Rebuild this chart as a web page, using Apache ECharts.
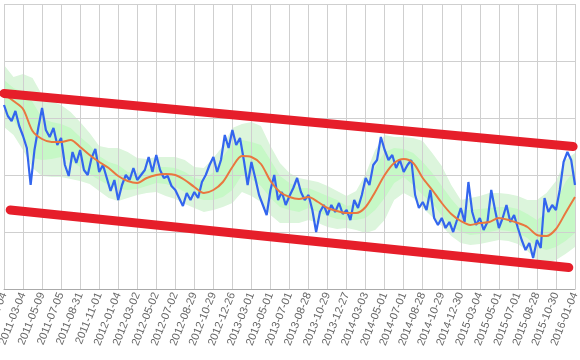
<!DOCTYPE html>
<html><head><meta charset="utf-8">
<script src="https://cdn.jsdelivr.net/npm/echarts@6/dist/echarts.min.js"></script>
<style>html,body{margin:0;padding:0;background:#fff}#c{width:580px;height:360px}</style>
</head><body><div id="c"></div>
<script>
const tickLabels = ["2011-01-04","2011-03-04","2011-05-09","2011-07-05","2011-08-31","2011-11-01","2012-01-04","2012-03-02","2012-05-02","2012-07-02","2012-08-29","2012-10-29","2012-12-26","2013-03-01","2013-05-01","2013-07-01","2013-08-28","2013-10-29","2013-12-27","2014-03-03","2014-05-01","2014-07-01","2014-08-28","2014-10-29","2014-12-30","2015-03-04","2015-05-01","2015-07-01","2015-08-28","2015-10-30","2016-01-04"];
const daysPerTick = 40;
const priceStep = 8;
const price = [184,173,168,178,163,153,141,104,139,161,181,159,152,161,144,151,124,113,137,126,139,119,114,131,140,117,124,111,98,109,89,104,114,109,121,109,114,119,132,117,134,119,111,113,103,99,91,83,96,89,97,91,107,114,124,132,117,129,154,141,159,144,151,129,104,127,111,94,84,74,99,114,89,97,84,93,101,111,97,89,94,79,57,77,84,74,84,77,86,75,79,69,89,81,94,111,104,124,129,152,139,129,134,121,129,117,124,129,94,81,87,79,99,71,64,71,61,67,57,69,81,67,107,77,64,71,59,67,99,79,61,71,84,67,74,61,49,39,46,31,49,41,91,77,84,79,99,127,137,129,104];
const bandStep = 20;
const movingAvg = [195,188,180,158,150,147,147,149,142,134,127,121,113,108,106,111,114,115,114,109,102,96,99,107,122,133,132,125,108,97,92,90,92,87,81,78,76,76,82,97,114,126,130,126,111,99,86,75,68,64,66,67,71,69,66,62,54,53,60,76,92];
const outerUpper = [224,212,215,211,194,188,184,177,167,156,143,141,141,137,131,130,132,132,132,129,122,121,131,143,161,165,167,163,143,126,116,111,109,107,103,98,93,98,115,139,154,152,152,151,148,136,123,104,89,91,93,96,96,95,93,89,89,96,108,129,136];
const innerUpper = [209,201,197,187,171,167,165,161,152,144,133,127,124,117,116,119,122,122,121,117,111,109,117,132,146,149,147,144,129,113,106,101,101,97,93,89,83,85,99,122,137,141,140,136,127,116,103,90,79,79,80,81,82,82,80,75,69,76,87,107,119];
const innerLower = [176,169,154,131,129,130,132,128,122,115,109,104,100,99,100,103,106,105,102,97,92,89,89,92,99,114,110,103,91,82,79,77,81,77,73,70,69,69,71,79,91,106,112,104,94,86,73,63,57,54,55,57,59,58,56,51,42,39,42,48,56];
const outerLower = [162,154,139,121,113,112,112,110,108,105,98,91,88,91,94,96,97,93,90,85,81,77,79,82,86,97,93,87,74,66,66,66,69,66,62,60,61,59,56,59,69,89,96,91,81,72,63,53,46,44,45,47,49,48,45,38,29,26,29,35,42];
const upperTrendIdx = [0, 1196], upperTrendVal = [195.6, 142.5];
const lowerTrendIdx = [13, 1187], lowerTrendVal = [79, 21.5];

const pairs = (arr, step) => arr.map((v, i) => [i * step, v]);
const nx = (tickLabels.length - 1) * daysPerTick;

function bandSeries(upper, lower, color, z) {
  return {
    type: 'custom', z: z, silent: true, clip: true,
    data: [[0, 0]],
    renderItem: function (params, api) {
      const top = upper.map((v, i) => api.coord([i * bandStep, v]));
      const bot = lower.map((v, i) => api.coord([i * bandStep, v])).reverse();
      return {type: 'polygon', shape: {points: top.concat(bot)}, style: {fill: color, stroke: null}};
    }
  };
}

const chart = echarts.init(document.getElementById('c'), null, {renderer: 'canvas'});
chart.setOption({
  animation: false,
  grid: {left: 4, right: 5, top: 4, bottom: 71, containLabel: false, outerBoundsMode: 'none'},
  xAxis: {
    type: 'value', min: 0, max: nx, interval: daysPerTick,
    axisLine: {show: true, onZero: false, lineStyle: {color: '#aaa'}},
    axisTick: {show: false},
    splitLine: {show: true, lineStyle: {color: '#cfcfcf'}},
    axisLabel: {
      rotate: 68, margin: 4, color: '#666', fontSize: 11, fontFamily: 'Liberation Sans',
      showMinLabel: true, showMaxLabel: true, hideOverlap: false,
      formatter: v => tickLabels[Math.round(v / daysPerTick)] || ''
    }
  },
  yAxis: {
    type: 'value', min: 0, max: 285, interval: 57,
    axisLine: {show: false}, axisTick: {show: false}, axisLabel: {show: false},
    splitLine: {show: true, lineStyle: {color: '#cfcfcf'}}
  },
  series: [
    bandSeries(outerUpper, outerLower, '#dcf5dc', -2),
    bandSeries(innerUpper, innerLower, '#c6f8c6', -1),
    {type: 'line', data: pairs(price, priceStep), symbol: 'none', lineStyle: {color: '#3366ee', width: 2.2}},
    {type: 'line', data: pairs(movingAvg, bandStep), symbol: 'none', smooth: 0.3, lineStyle: {color: '#e9773f', width: 2}},
    {type: 'line', data: upperTrendIdx.map((x, i) => [x, upperTrendVal[i]]), symbol: 'none', clip: false, lineStyle: {color: '#e61e2a', width: 9, cap: 'round'}},
    {type: 'line', data: lowerTrendIdx.map((x, i) => [x, lowerTrendVal[i]]), symbol: 'none', clip: false, lineStyle: {color: '#e61e2a', width: 9, cap: 'round'}}
  ]
});
</script></body></html>
